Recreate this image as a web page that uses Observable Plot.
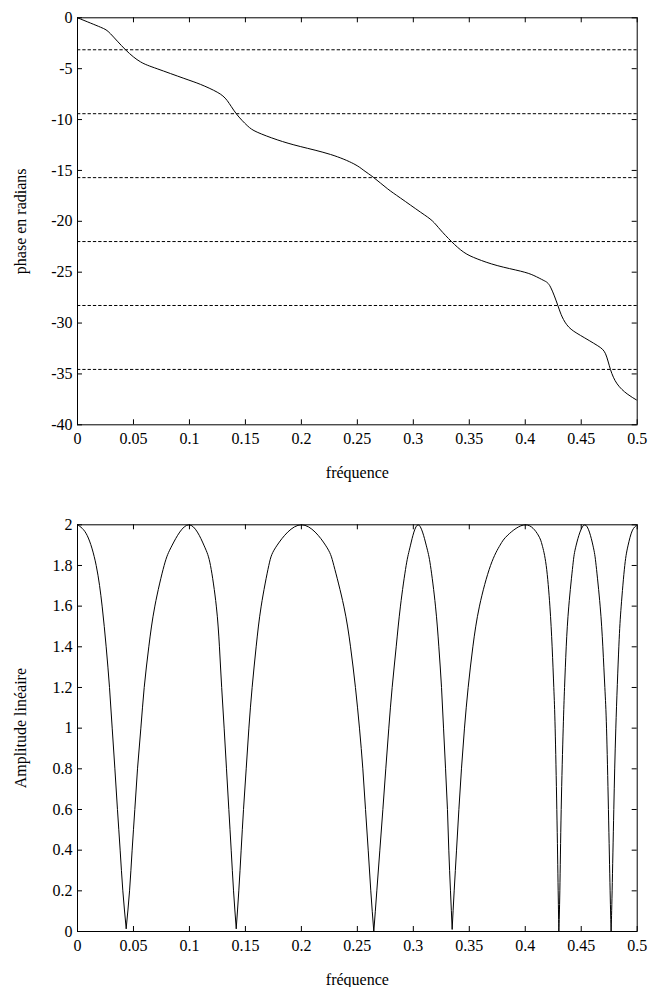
<!DOCTYPE html>
<html>
<head>
<meta charset="utf-8">
<script src="https://cdn.jsdelivr.net/npm/d3@7"></script>
<script src="https://cdn.jsdelivr.net/npm/@observablehq/plot@0.6"></script>
<style>
  html, body { margin: 0; padding: 0; background: white; }
  svg { display: block; }
  svg text { font-family: 'Liberation Serif', 'Times New Roman', Times, serif !important; }
</style>
</head>
<body>
<div id="chart"></div>
<script>
// ---- Data ----
// Top panel: phase (radians) vs frequency
const phaseFreq = [0, 0.0205, 0.0295, 0.0429, 0.0563, 0.0712, 0.095, 0.110, 0.1248, 0.1337,
  0.1418, 0.1516, 0.1605, 0.1784, 0.199, 0.226, 0.2468, 0.2558, 0.2647, 0.2767,
  0.2886, 0.3064, 0.3169, 0.3243, 0.3341, 0.3451, 0.357, 0.3749, 0.3958, 0.4077,
  0.4166, 0.4226, 0.4291, 0.433, 0.4389, 0.4494, 0.4643, 0.4717, 0.4761, 0.4821,
  0.491, 0.5];
const phaseValue = [0, -0.92, -1.57, -3.14, -4.33, -5.01, -5.95, -6.55, -7.31, -8.13,
  -9.42, -10.59, -11.24, -11.99, -12.65, -13.43, -14.35, -15.0, -15.71, -16.78,
  -17.72, -19.1, -19.95, -20.85, -21.99, -23.04, -23.69, -24.35, -24.9, -25.33,
  -25.82, -26.47, -28.27, -29.4, -30.4, -31.22, -32.2, -33.02, -34.56, -35.98,
  -36.96, -37.6];
// dashed reference levels (odd multiples of -pi)
const dashedLevels = [-3.1416, -9.4248, -15.708, -21.991, -28.274, -34.558];

// Bottom panel: linear amplitude vs frequency
const ampFreq = [
  0, 0.0086, 0.0167, 0.022, 0.0256, 0.0286, 0.031, 0.0334, 0.0357, 0.0381, 0.0405, 0.0435,
  0.0465, 0.0488, 0.0512, 0.0536, 0.0566, 0.0596, 0.0637, 0.0691, 0.0774, 0.0846, 0.0995,
  0.1129, 0.1188, 0.1240, 0.1268, 0.1288, 0.131, 0.1331, 0.1352, 0.1373, 0.1394, 0.1418,
  0.1441, 0.1462, 0.1483, 0.1507, 0.1531, 0.156, 0.1596, 0.1641, 0.1709, 0.1784, 0.2001,
  0.2215, 0.229, 0.2379, 0.2439, 0.2483, 0.2519, 0.2549, 0.2573, 0.2597, 0.262, 0.2647,
  0.2674, 0.2701, 0.2728, 0.2754, 0.2781, 0.2811, 0.2847, 0.2885, 0.2936, 0.2975, 0.3043,
  0.3115, 0.3153, 0.3198, 0.3228, 0.3252, 0.327, 0.3288, 0.3305, 0.3317, 0.3332, 0.3347,
  0.3365, 0.3386, 0.3407, 0.343, 0.3457, 0.349, 0.3532, 0.3591, 0.3690, 0.3775, 0.3845, 0.4002,
  0.4115, 0.4151, 0.4187, 0.422, 0.424, 0.4255, 0.4267, 0.4282, 0.4294, 0.43,
  0.4309, 0.4321, 0.4339, 0.4351, 0.4366, 0.4389, 0.4425, 0.4455, 0.4532,
  0.4604, 0.4633, 0.4669, 0.4693, 0.4711, 0.4726, 0.4743, 0.4758, 0.4767,
  0.4776, 0.4791, 0.4809, 0.4836, 0.4857, 0.4889, 0.4919, 0.4955, 0.5];
const ampValue = [
  2, 1.948, 1.8, 1.6, 1.4, 1.2, 1.0, 0.8, 0.6, 0.4, 0.2, 0.015,
  0.2, 0.4, 0.6, 0.8, 1.0, 1.2, 1.4, 1.6, 1.8, 1.9, 2.0,
  1.9, 1.8, 1.6, 1.4, 1.2, 1.0, 0.8, 0.6, 0.4, 0.2, 0.015,
  0.2, 0.4, 0.6, 0.8, 1.0, 1.2, 1.4, 1.6, 1.8, 1.9, 2.0,
  1.9, 1.8, 1.6, 1.4, 1.2, 1.0, 0.8, 0.6, 0.4, 0.2, 0,
  0.2, 0.4, 0.6, 0.8, 1.0, 1.2, 1.4, 1.6, 1.8, 1.9, 2.0,
  1.9, 1.8, 1.6, 1.4, 1.2, 1.0, 0.8, 0.6, 0.4, 0.2, 0.012,
  0.2, 0.4, 0.6, 0.8, 1.0, 1.2, 1.4, 1.6, 1.8, 1.9, 1.95, 2.0,
  1.95, 1.9, 1.8, 1.6, 1.4, 1.2, 1.0, 0.6, 0.2, 0,
  0.2, 0.6, 1.0, 1.2, 1.4, 1.6, 1.8, 1.9, 2.0,
  1.9, 1.8, 1.6, 1.4, 1.2, 1.0, 0.6, 0.2, 0,
  0.2, 0.6, 1.0, 1.4, 1.6, 1.8, 1.9, 1.97, 2.0];

// Tick labels
const xTicks = [0, 0.05, 0.1, 0.15, 0.2, 0.25, 0.3, 0.35, 0.4, 0.45, 0.5];
const phaseTicks = [0, -5, -10, -15, -20, -25, -30, -35, -40];
const ampTicks = [0, 0.2, 0.4, 0.6, 0.8, 1, 1.2, 1.4, 1.6, 1.8, 2];

const xLabel = "fréquence";
const phaseLabel = "phase en radians";
const ampLabel = "Amplitude linéaire";

// ---- Build tables ----
const phaseRows = phaseFreq.map((f, i) => ({f, v: phaseValue[i]}));
const ampRows = [];
let lobe = 0;
ampFreq.forEach((f, i) => {
  const v = ampValue[i];
  ampRows.push({f, v, lobe});
  const isMin = i > 0 && i < ampFreq.length - 1 && v < ampValue[i - 1] && v < ampValue[i + 1];
  if (isMin) { lobe++; ampRows.push({f, v, lobe}); }
});

// ---- Layout ----
const W = 649;
const ML = 77, MR = 12.3;
const FONT = "'Liberation Serif', 'Times New Roman', Times, serif";

function panel({height, mt, mb, yDomain, yTicks, rows, extra, yLabel, curve, z}) {
  const plotW = W - ML - MR;
  const plotH = height - mt - mb;
  const T = 5;
  return Plot.plot({
    width: W, height,
    marginLeft: ML, marginRight: MR, marginTop: mt, marginBottom: mb,
    style: {fontFamily: FONT, fontSize: "16px", background: "white", color: "black", overflow: "visible"},
    x: {domain: [0, 0.5]},
    y: {domain: yDomain},
    marks: [
      ...extra,
      Plot.line(rows, {x: "f", y: "v", z, curve, stroke: "black", strokeWidth: 1, clip: true}),
      Plot.frame({stroke: "black", strokeWidth: 1}),
      // inward ticks on all four sides
      Plot.tickX(xTicks, {x: d => d, insetTop: plotH - T, stroke: "black"}),
      Plot.tickX(xTicks, {x: d => d, insetBottom: plotH - T, stroke: "black"}),
      Plot.tickY(yTicks, {y: d => d, insetRight: plotW - T, stroke: "black"}),
      Plot.tickY(yTicks, {y: d => d, insetLeft: plotW - T, stroke: "black"}),
      Plot.axisX({ticks: xTicks, tickSize: 0, tickPadding: 8, tickFormat: d => String(d), label: null, fill: "black", fontFamily: FONT, fontVariant: "normal"}),
      Plot.axisY({ticks: yTicks, tickSize: 0, tickPadding: 5, tickFormat: d => String(d), label: null, fill: "black", fontFamily: FONT, fontVariant: "normal"}),
      Plot.text([xLabel], {frameAnchor: "bottom", lineAnchor: "middle", textAnchor: "middle", dy: 48.5, fill: "black", fontFamily: FONT}),
      Plot.text([yLabel], {frameAnchor: "left", rotate: -90, textAnchor: "middle", lineAnchor: "middle", dx: -57, fill: "black", fontFamily: FONT})
    ]
  });
}

const phasePanel = panel({
  height: 487, mt: 17.3, mb: 62.7,
  yDomain: [-40, 0], yTicks: phaseTicks, rows: phaseRows,
  extra: [Plot.ruleY(dashedLevels, {stroke: "black", strokeWidth: 1, strokeDasharray: "3.3,2"})],
  yLabel: phaseLabel, curve: "natural", z: null
});
const ampPanel = panel({
  height: 500, mt: 37.3, mb: 56,
  yDomain: [0, 2], yTicks: ampTicks, rows: ampRows,
  extra: [],
  yLabel: ampLabel, curve: "natural", z: "lobe"
});
const chartDiv = document.getElementById("chart");
chartDiv.appendChild(phasePanel);
chartDiv.appendChild(ampPanel);
</script>
</body>
</html>
